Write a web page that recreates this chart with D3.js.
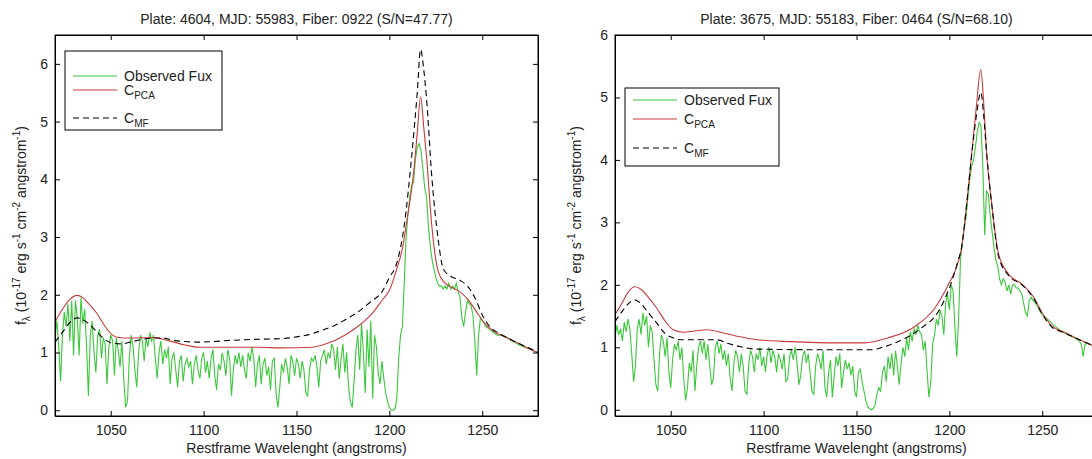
<!DOCTYPE html>
<html>
<head>
<meta charset="utf-8">
<script src="https://cdn.jsdelivr.net/npm/d3@7"></script>
<style>
body { margin:0; background:#fff; }
svg { font-family: "Liberation Sans", Arial, sans-serif; }
.axis path, .axis line { stroke:#000; }
.axis text { font-size:14px; fill:#222; }
</style>
</head>
<body>
<svg id="chart" width="1092" height="459"></svg>
<script>
// ---- data ----
var xTicks = [1050, 1100, 1150, 1200, 1250];
var yTicksLeft = [0, 1, 2, 3, 4, 5, 6];
var yTicksRight = [0, 1, 2, 3, 4, 5, 6];
var titleLeft = "Plate: 4604, MJD: 55983, Fiber: 0922 (S/N=47.77)";
var titleRight = "Plate: 3675, MJD: 55183, Fiber: 0464 (S/N=68.10)";
var legendLabels = ["Observed Fux", "PCA", "MF"];

// observed flux, left panel [wavelength, flux]
var obsLeft = [
 [1020,1.25],[1021,1.55],[1022,1.1],[1023,0.5],[1024,1.3],[1025,1.7],[1026,1.45],[1027,1.85],[1028,1.2],[1029,1.9],
 [1030,0.95],[1031,1.9],[1032,1.6],[1033,0.95],[1034,1.95],[1035,1.5],[1036,1.75],[1037,1.1],[1038,0.25],[1039,1.3],
 [1040,1.55],[1041,1.0],[1042,0.65],[1043,1.3],[1044,1.4],[1045,0.9],[1046,1.25],[1047,1.15],[1048,0.45],[1049,1.1],
 [1050,1.3],[1051,1.2],[1052,0.6],[1053,1.25],[1054,1.05],[1055,0.75],[1056,1.2],[1057,0.55],[1058,0.05],[1059,0.15],
 [1060,0.9],[1061,1.3],[1062,1.1],[1063,0.7],[1064,0.4],[1065,1.0],[1066,1.3],[1067,1.2],[1068,0.85],[1069,1.25],
 [1070,1.1],[1071,1.35],[1072,1.2],[1073,1.3],[1074,0.9],[1075,0.55],[1076,1.0],[1077,1.2],[1078,0.8],[1079,1.05],
 [1080,0.9],[1081,1.1],[1082,0.45],[1083,0.9],[1084,1.0],[1085,0.7],[1086,0.4],[1087,0.85],[1088,0.95],[1089,0.5],
 [1090,0.8],[1091,0.9],[1092,0.75],[1093,0.85],[1094,0.45],[1095,0.8],[1096,0.95],[1097,0.7],[1098,0.55],[1099,0.9],
 [1100,1.0],[1101,0.65],[1102,0.85],[1103,0.55],[1104,0.9],[1105,1.05],[1106,0.6],[1107,0.35],[1108,0.8],[1109,0.7],
 [1110,1.0],[1111,0.85],[1112,0.6],[1113,1.05],[1114,0.9],[1115,0.25],[1116,0.7],[1117,0.95],[1118,0.8],[1119,1.0],
 [1120,0.75],[1121,0.95],[1122,0.7],[1123,0.55],[1124,1.0],[1125,0.85],[1126,1.1],[1127,0.9],[1128,0.4],[1129,0.8],
 [1130,0.95],[1131,0.45],[1132,0.8],[1133,0.9],[1134,0.6],[1135,0.75],[1136,0.35],[1137,0.85],[1138,0.9],[1139,0.3],
 [1140,0.05],[1141,0.4],[1142,0.8],[1143,0.65],[1144,0.9],[1145,0.75],[1146,0.45],[1147,0.95],[1148,0.85],[1149,0.6],
 [1150,0.9],[1151,0.8],[1152,0.55],[1153,0.85],[1154,0.7],[1155,0.3],[1156,0.25],[1157,0.7],[1158,0.9],[1159,0.85],
 [1160,0.95],[1161,0.75],[1162,0.4],[1163,0.85],[1164,0.95],[1165,1.05],[1166,0.8],[1167,1.0],[1168,0.9],[1169,1.15],
 [1170,1.05],[1171,0.7],[1172,1.1],[1173,0.55],[1174,0.9],[1175,1.15],[1176,0.65],[1177,1.0],[1178,0.4],[1179,0.15],
 [1180,0.05],[1181,0.5],[1182,1.05],[1183,1.3],[1184,0.7],[1185,1.5],[1186,1.0],[1187,0.3],[1188,1.4],[1189,0.75],
 [1190,1.55],[1191,0.2],[1192,1.3],[1193,1.1],[1194,0.65],[1195,0.45],[1196,0.85],[1197,0.55],[1198,0.3],[1199,0.15],
 [1200,0.05],[1201,0.0],[1202,0.0],[1203,0.02],[1204,0.2],[1205,0.9],[1206,1.3],[1207,1.45],[1208,2.2],[1209,3.0],
 [1210,3.4],[1211,3.7],[1212,3.9],[1213,3.95],[1214,4.35],[1215,4.55],[1216,4.62],[1217,4.5],[1218,4.2],[1219,3.85],
 [1220,3.7],[1221,3.2],[1222,2.85],[1223,2.6],[1224,2.45],[1225,2.3],[1226,2.2],[1227,2.15],[1228,2.15],[1229,2.1],
 [1230,2.15],[1231,2.1],[1232,2.2],[1233,2.1],[1234,2.15],[1235,2.1],[1236,2.2],[1237,2.05],[1238,1.95],[1239,1.6],
 [1240,1.45],[1241,1.7],[1242,1.9],[1243,1.85],[1244,1.8],[1245,1.65],[1246,1.2],[1247,0.6],[1248,1.3],[1249,1.6],
 [1250,1.55],[1252,1.45],[1254,1.4],[1256,1.35],[1258,1.3],[1260,1.3],[1262,1.28],[1264,1.25],[1266,1.2],[1268,1.17],
 [1270,1.13],[1272,1.1],[1274,1.08],[1276,1.05],[1278,1.02],[1280,1.0]
];
// PCA continuum, left panel
var pcaLeft = [
 [1020,1.53],[1024,1.75],[1028,1.92],[1031.7,1.99],[1035,1.95],[1038,1.85],[1042.5,1.68],[1047,1.45],[1051,1.3],[1054,1.26],
 [1060,1.25],[1073,1.26],[1078,1.23],[1084,1.18],[1090,1.13],[1098,1.09],[1110,1.09],[1130,1.09],[1142,1.08],[1158,1.09],
 [1166,1.15],[1176,1.3],[1183,1.45],[1190,1.65],[1196,1.9],[1200,2.08],[1204,2.45],[1207,2.8],[1209.5,3.3],[1213,4.1],
 [1215,4.8],[1216.8,5.43],[1218.5,4.9],[1220,4.39],[1222.7,3.24],[1226.3,2.4],[1230,2.2],[1234,2.12],[1238,2.05],[1242.5,1.91],
 [1247,1.7],[1251.5,1.5],[1256,1.37],[1262.3,1.27],[1270,1.15],[1276.8,1.04],[1280,1.0]
];
// MF continuum, left panel
var mfLeft = [
 [1020,1.18],[1024,1.35],[1028,1.52],[1032,1.6],[1036,1.55],[1042.5,1.36],[1047,1.22],[1051.5,1.16],[1056,1.15],[1060.5,1.18],
 [1066,1.22],[1073,1.25],[1078,1.25],[1084,1.21],[1090,1.19],[1096.6,1.18],[1105,1.19],[1114.6,1.21],[1130,1.23],[1141.6,1.24],
 [1150,1.27],[1157.8,1.32],[1165,1.4],[1170,1.46],[1175.8,1.56],[1183,1.7],[1190,1.88],[1196,2.05],[1200,2.3],[1204,2.55],
 [1208,3.2],[1212,4.4],[1215,5.5],[1216.8,6.25],[1218.5,5.9],[1220,5.4],[1222.7,4.1],[1226.3,2.95],[1229,2.45],[1233,2.32],
 [1238,2.25],[1242,2.15],[1246,1.95],[1250,1.65],[1254,1.45],[1258,1.35],[1262,1.28],[1270,1.15],[1277,1.05],[1280,1.0]
];

// observed flux, right panel
var obsRight = [
 [1020,1.15],[1021,1.35],[1022,1.2],[1023,1.3],[1024,1.1],[1025,1.4],[1026,1.25],[1027,1.45],[1028,1.3],[1029,0.9],
 [1030,0.45],[1031,0.7],[1032,1.3],[1033,1.45],[1034,1.2],[1035,1.55],[1036,1.35],[1037,1.5],[1038,1.0],[1039,1.35],
 [1040,1.25],[1041,0.8],[1042,0.4],[1043,0.3],[1044,0.9],[1045,1.2],[1046,1.1],[1047,0.85],[1048,1.15],[1049,0.6],
 [1050,0.35],[1051,0.8],[1052,1.05],[1053,0.95],[1054,1.1],[1055,0.8],[1056,1.0],[1057,0.5],[1058,0.15],[1059,0.35],
 [1060,0.75],[1061,0.6],[1062,0.95],[1063,0.3],[1064,0.7],[1065,1.0],[1066,1.1],[1067,0.9],[1068,1.1],[1069,0.8],
 [1070,1.05],[1071,0.7],[1072,0.4],[1073,0.5],[1074,1.0],[1075,1.1],[1076,0.9],[1077,1.05],[1078,0.8],[1079,0.95],
 [1080,0.7],[1081,0.9],[1082,0.5],[1083,0.3],[1084,0.75],[1085,0.95],[1086,0.85],[1087,0.6],[1088,0.9],[1089,0.7],
 [1090,0.3],[1091,0.25],[1092,0.75],[1093,0.95],[1094,0.85],[1095,0.6],[1096,0.9],[1097,0.8],[1098,1.0],[1099,0.7],
 [1100,0.85],[1101,0.6],[1102,0.9],[1103,1.0],[1104,0.75],[1105,0.95],[1106,0.85],[1107,0.6],[1108,0.9],[1109,0.8],
 [1110,0.65],[1111,0.9],[1112,0.45],[1113,0.5],[1114,0.85],[1115,0.95],[1116,0.8],[1117,1.0],[1118,0.75],[1119,0.4],
 [1120,0.55],[1121,0.85],[1122,0.95],[1123,0.75],[1124,0.9],[1125,0.6],[1126,0.3],[1127,0.25],[1128,0.7],[1129,0.9],
 [1130,0.8],[1131,0.65],[1132,0.95],[1133,0.35],[1134,0.2],[1135,0.6],[1136,0.8],[1137,0.2],[1138,0.55],[1139,0.85],
 [1140,0.7],[1141,0.9],[1142,0.35],[1143,0.6],[1144,0.8],[1145,0.65],[1146,0.75],[1147,0.55],[1148,0.7],[1149,0.3],
 [1150,0.2],[1151,0.6],[1152,0.65],[1153,0.45],[1154,0.3],[1155,0.15],[1156,0.05],[1157,0.02],[1158,0.0],[1159,0.02],
 [1160,0.08],[1161,0.25],[1162,0.35],[1163,0.3],[1164,0.6],[1165,0.7],[1166,0.45],[1167,0.85],[1168,0.65],[1169,0.9],
 [1170,0.55],[1171,0.95],[1172,0.7],[1173,0.4],[1174,0.75],[1175,1.0],[1176,0.85],[1177,1.15],[1178,0.95],[1179,1.25],
 [1180,1.1],[1181,1.3],[1182,1.2],[1183,1.35],[1184,1.25],[1185,1.2],[1186,0.95],[1187,1.1],[1188,0.6],[1189,0.2],
 [1190,0.45],[1191,1.05],[1192,1.2],[1193,1.45],[1194,1.35],[1195,1.6],[1196,1.5],[1197,1.2],[1198,1.7],[1199,1.85],
 [1200,1.6],[1201,2.0],[1202,1.9],[1203,1.3],[1204,0.85],[1205,1.5],[1206,2.4],[1207,2.7],[1208,2.9],[1209,3.1],
 [1210,3.4],[1211,3.7],[1212,3.9],[1213,4.0],[1214,4.2],[1215,4.45],[1216,4.6],[1217,4.55],[1218,3.9],[1219,2.8],
 [1220,3.5],[1221,3.45],[1222,3.1],[1223,2.85],[1224,2.6],[1225,2.4],[1226,2.3],[1227,2.1],[1228,2.0],[1229,2.1],
 [1230,2.05],[1231,1.9],[1232,2.0],[1233,1.85],[1234,2.0],[1235,2.0],[1236,1.95],[1237,1.95],[1238,1.9],[1239,1.85],
 [1240,1.7],[1241,1.55],[1242,1.5],[1243,1.75],[1244,1.8],[1245,1.75],[1246,1.72],[1248,1.62],[1250,1.52],[1252,1.47],
 [1254,1.42],[1256,1.36],[1258,1.31],[1260,1.27],[1262,1.23],[1264,1.2],[1266,1.17],[1268,1.14],[1270,1.1],[1271,1.05],
 [1272,0.85],[1273,1.05],[1274,1.06],[1276,1.04],[1278,1.02],[1280,1.0]
];
var pcaRight = [
 [1020,1.52],[1024,1.72],[1027,1.88],[1030.7,1.97],[1034,1.93],[1038,1.8],[1042.4,1.63],[1047,1.42],[1051.4,1.28],[1056.8,1.24],
 [1063,1.26],[1069.4,1.28],[1078.4,1.23],[1087,1.17],[1096.5,1.12],[1114.5,1.09],[1141.6,1.07],[1154.3,1.07],[1166.9,1.15],[1181.3,1.33],
 [1192.2,1.63],[1199.4,2.0],[1204.8,2.37],[1206.6,2.6],[1209.3,3.29],[1212,4.09],[1214.5,4.85],[1216.9,5.45],[1218.5,4.9],[1220.1,4.09],
 [1222.8,3.29],[1226.5,2.49],[1231.9,2.17],[1239.1,2.01],[1245.4,1.8],[1250,1.55],[1255.3,1.34],[1261.2,1.25],[1271.6,1.1],[1278,1.02],
 [1280,1.0]
];
var mfRight = [
 [1020,1.41],[1024,1.58],[1028,1.72],[1030.7,1.76],[1034,1.7],[1038,1.55],[1042.4,1.39],[1047,1.22],[1051.4,1.15],[1055,1.12],
 [1074.8,1.12],[1081,1.06],[1087.5,1.01],[1096.5,0.97],[1141.6,0.96],[1157.9,0.96],[1165,1.01],[1172.3,1.09],[1184.9,1.31],[1194,1.57],
 [1201.2,2.05],[1204.5,2.37],[1206.6,2.6],[1209.3,3.29],[1212,4.09],[1214.5,4.7],[1216.9,5.08],[1218.5,4.7],[1220.1,4.09],[1222.8,3.29],
 [1226.5,2.45],[1231.9,2.15],[1239.1,2.0],[1245.4,1.78],[1250,1.53],[1255.3,1.32],[1261.2,1.24],[1271.6,1.1],[1278,1.02],[1280,1.0]
];

var colors = {obs: "#3cc83c", pca: "#c83c3c", mf: "#000"};
var svg = d3.select("#chart");
svg.append("rect").attr("width", 1092).attr("height", 459).attr("fill", "#fff");

var panels = [
  {id: "L", left: 55, title: titleLeft, yDomain: [-0.1, 6.5], yTicks: yTicksLeft, obs: obsLeft, pca: pcaLeft, mf: mfLeft,
   legend: {x: 65, y: 51, w: 157, h: 79, rows: [76, 90, 118]}, ylabX: 26},
  {id: "R", left: 615, title: titleRight, yDomain: [-0.1, 6], yTicks: yTicksRight, obs: obsRight, pca: pcaRight, mf: mfRight,
   legend: {x: 625, y: 88, w: 154, h: 78, rows: [100, 119, 148]}, ylabX: 581}
];

// writes a string with super/subscripts as tspans: parts = [[text, "n"|"sup"|"sub"]]
function richText(sel, parts, size) {
  var shift = 0;
  parts.forEach(function(p) {
    var target = p[1] === "sup" ? -0.45 * size : p[1] === "sub" ? 0.3 * size : 0;
    sel.append("tspan")
      .attr("dy", target - shift)
      .style("font-size", (p[1] === "n" ? size : size * 0.72) + "px")
      .text(p[0]);
    shift = target;
  });
}

var fmt = d3.format("d");

panels.forEach(function(P) {
  var width = 483, top = 35, bottom = 416;
  var x = d3.scaleLinear().domain([1020, 1280]).range([P.left, P.left + width]);
  var y = d3.scaleLinear().domain(P.yDomain).range([bottom, top]);

  svg.append("defs").append("clipPath").attr("id", "clip" + P.id)
    .append("rect").attr("x", P.left).attr("y", top).attr("width", width).attr("height", bottom - top);

  var line = d3.line().x(function(d) { return x(d[0]); }).y(function(d) { return y(d[1]); });
  var smooth = d3.line().curve(d3.curveMonotoneX).x(function(d) { return x(d[0]); }).y(function(d) { return y(d[1]); });

  var plot = svg.append("g").attr("clip-path", "url(#clip" + P.id + ")");
  plot.append("path").datum(P.obs).attr("d", line)
    .attr("fill", "none").attr("stroke", colors.obs).attr("stroke-width", 1.1);
  plot.append("path").datum(P.pca).attr("d", smooth)
    .attr("fill", "none").attr("stroke", colors.pca).attr("stroke-width", 1.1);
  plot.append("path").datum(P.mf).attr("d", smooth)
    .attr("fill", "none").attr("stroke", colors.mf).attr("stroke-width", 1.1).attr("stroke-dasharray", "6,4");

  // axes, ticks inside like matlab
  svg.append("g").attr("class", "axis").attr("transform", "translate(0," + bottom + ")")
    .call(d3.axisBottom(x).tickValues(xTicks).tickFormat(fmt).tickSizeInner(-5).tickSizeOuter(0).tickPadding(9));
  svg.append("g").attr("class", "axis").attr("transform", "translate(" + P.left + ",0)")
    .call(d3.axisLeft(y).tickValues(P.yTicks).tickFormat(fmt).tickSizeInner(-5).tickSizeOuter(0).tickPadding(7));
  svg.append("g").attr("class", "axis").attr("transform", "translate(0," + top + ")")
    .call(d3.axisTop(x).tickValues(xTicks).tickSizeInner(-5).tickSizeOuter(0).tickFormat(""));
  svg.append("g").attr("class", "axis").attr("transform", "translate(" + (P.left + width) + ",0)")
    .call(d3.axisRight(y).tickValues(P.yTicks.filter(function(v) { return y(v) > top; })).tickSizeInner(-5).tickSizeOuter(0).tickFormat(""));
  svg.append("rect").attr("x", P.left).attr("y", top).attr("width", width).attr("height", bottom - top)
    .attr("fill", "none").attr("stroke", "#000");

  // title and axis labels
  svg.append("text").attr("x", P.left + width / 2).attr("y", 24).attr("text-anchor", "middle")
    .style("font-size", "14px").attr("fill", "#222").text(P.title);
  svg.append("text").attr("x", P.left + width / 2).attr("y", 453).attr("text-anchor", "middle")
    .style("font-size", "14px").attr("fill", "#222").text("Restframe Wavelenght (angstroms)");
  var yl = svg.append("text").attr("text-anchor", "middle").attr("fill", "#222")
    .attr("transform", "translate(" + P.ylabX + "," + ((top + bottom) / 2) + ") rotate(-90)");
  richText(yl, [["f", "n"], ["λ", "sub"], [" (10", "n"], ["-17", "sup"], [" erg s", "n"], ["-1", "sup"],
                [" cm", "n"], ["-2", "sup"], [" angstrom", "n"], ["-1", "sup"], [")", "n"]], 14);

  // legend
  var L = P.legend;
  var lg = svg.append("g").attr("class", "legend");
  lg.append("rect").attr("x", L.x).attr("y", L.y).attr("width", L.w).attr("height", L.h)
    .attr("fill", "#fff").attr("stroke", "#000");
  var styles = [[colors.obs, null], [colors.pca, null], [colors.mf, "6,4"]];
  legendLabels.forEach(function(lab, i) {
    var ry = L.rows[i];
    lg.append("line").attr("x1", L.x + 8).attr("x2", L.x + 52).attr("y1", ry).attr("y2", ry)
      .attr("stroke", styles[i][0]).attr("stroke-width", 1.1).attr("stroke-dasharray", styles[i][1]);
    var t = lg.append("text").attr("x", L.x + 59).attr("y", ry + 5).attr("fill", "#222");
    if (i === 0) richText(t, [[lab, "n"]], 14);
    else richText(t, [["C", "n"], [lab, "sub"]], 14);
  });
});
</script>
</body>
</html>
